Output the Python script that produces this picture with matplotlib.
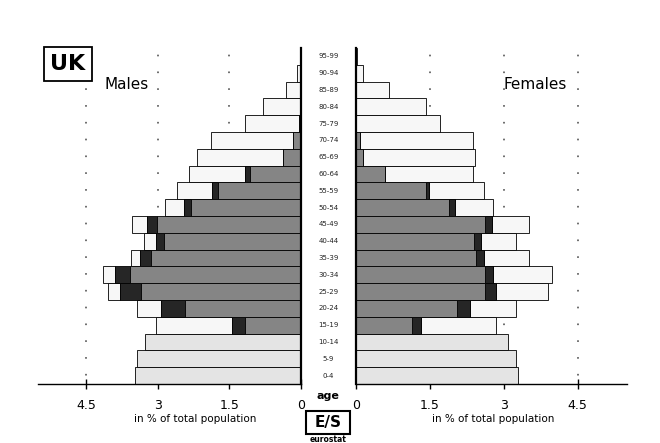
import matplotlib
matplotlib.use('agg')
import matplotlib.pyplot as plt
from matplotlib.patches import Rectangle
import numpy as np

ages = ['0-4', '5-9', '10-14', '15-19', '20-24', '25-29', '30-34', '35-39', '40-44', '45-49',
        '50-54', '55-59', '60-64', '65-69', '70-74', '75-79', '80-84', '85-89', '90-94', '95-99']

# under 15 (not covered by the labour force survey)
male_young = [3.48, 3.44, 3.27]
female_young = [3.29, 3.24, 3.08]

# 15-19 .. 95-99, in % of total population
male_employed = [1.17, 2.43, 3.34, 3.58, 3.13, 2.87, 3.02, 2.29, 1.73, 1.07,
                 0.37, 0.17, 0.05, 0.0, 0.0, 0.0, 0.0]
male_unemployed = [0.28, 0.49, 0.45, 0.32, 0.24, 0.17, 0.21, 0.16, 0.14, 0.10,
                   0.0, 0.0, 0.0, 0.0, 0.0, 0.0, 0.0]
male_inactive = [1.58, 0.52, 0.25, 0.24, 0.18, 0.25, 0.31, 0.40, 0.72, 1.17,
                 1.80, 1.72, 1.12, 0.79, 0.31, 0.09, 0.03]

female_employed = [1.13, 2.05, 2.62, 2.62, 2.44, 2.39, 2.61, 1.89, 1.42, 0.58,
                   0.15, 0.08, 0.0, 0.0, 0.0, 0.0, 0.0]
female_unemployed = [0.18, 0.26, 0.23, 0.17, 0.15, 0.15, 0.15, 0.11, 0.07, 0.0,
                     0.0, 0.0, 0.0, 0.0, 0.0, 0.0, 0.0]
female_inactive = [1.54, 0.94, 1.04, 1.19, 0.93, 0.71, 0.76, 0.78, 1.11, 1.80,
                   2.27, 2.30, 1.70, 1.43, 0.67, 0.15, 0.03]

xticks = [0, 1.5, 3, 4.5]
xticklabels = ['0', '1.5', '3', '4.5']

c_emp = '#858585'
c_unemp = '#262626'
c_inact = '#f7f7f7'
c_young = '#e4e4e4'

fig = plt.figure(figsize=(6.6, 4.43), dpi=100)
ax_m = fig.add_axes([38 / 660, 1 - 384 / 443, 263 / 660, 336 / 443])
ax_f = fig.add_axes([356 / 660, 1 - 384 / 443, 271 / 660, 336 / 443])

y_young = np.arange(3)
y_adult = np.arange(3, 20)


def draw_side(ax, young, emp, unemp, inact):
    emp = np.array(emp)
    unemp = np.array(unemp)
    inact = np.array(inact)
    kw = dict(height=1.0, edgecolor='black', linewidth=0.6)
    ax.barh(y_young, young, color=c_young, **kw)
    ax.barh(y_adult, inact, left=emp + unemp, color=c_inact, **kw)
    ax.barh(y_adult, unemp, left=emp, color=c_unemp, **kw)
    ax.barh(y_adult, emp, color=c_emp, **kw)
    ax.set_ylim(-0.5, 19.5)
    ax.set_yticks([])
    ax.set_xticks(xticks)
    ax.set_xticklabels(xticklabels, fontsize=9)
    ax.tick_params(axis='x', direction='inout', length=7, width=1, pad=7)
    ax.set_axisbelow(True)
    # dots roughly one per age row
    ax.grid(axis='x', color='#555555', linewidth=1.2, linestyle=(5.0, (1, 9.08)))
    ax.spines['top'].set_visible(False)
    ax.spines['bottom'].set_linewidth(1)


draw_side(ax_m, male_young, male_employed, male_unemployed, male_inactive)
ax_m.set_xlim(5.5, 0)
ax_m.spines['left'].set_visible(False)
ax_m.spines['right'].set_linewidth(1.6)

draw_side(ax_f, female_young, female_employed, female_unemployed, female_inactive)
ax_f.set_xlim(0, 5.5)
ax_f.spines['right'].set_visible(False)
ax_f.spines['left'].set_linewidth(1.6)

for i, a in enumerate(ages):
    ax_f.text(-0.56, i, a, fontsize=5, ha='center', va='center', color='#222222',
              clip_on=False)

fig.text(328 / 660, 1 - 396 / 443, 'age', fontsize=8, fontweight='bold', ha='center', va='center')
fig.text(195 / 660, 1 - 419 / 443, 'in % of total population', fontsize=7.5, ha='center', va='center')
fig.text(493 / 660, 1 - 419 / 443, 'in % of total population', fontsize=7.5, ha='center', va='center')

fig.text(68 / 660, 1 - 64 / 443, 'UK', fontsize=16, fontweight='bold', ha='center', va='center',
         bbox=dict(boxstyle='square,pad=0.3', facecolor='white', edgecolor='black', linewidth=1.3))
fig.text(105 / 660, 1 - 84 / 443, 'Males', fontsize=11, ha='left', va='center')
fig.text(567 / 660, 1 - 84 / 443, 'Females', fontsize=11, ha='right', va='center')

# eurostat logo
fig.patches.append(Rectangle((306 / 660, 1 - 434 / 443), 44 / 660, 23 / 443,
                             transform=fig.transFigure, facecolor='white',
                             edgecolor='black', linewidth=1.5))
fig.text(328 / 660, 1 - 422 / 443, 'E/S', fontsize=11, fontweight='bold', ha='center', va='center')
fig.text(328 / 660, 1 - 439 / 443, 'eurostat', fontsize=5.5, fontweight='bold', ha='center', va='center')

fig.savefig('out.png', dpi=100)
plt.close()
